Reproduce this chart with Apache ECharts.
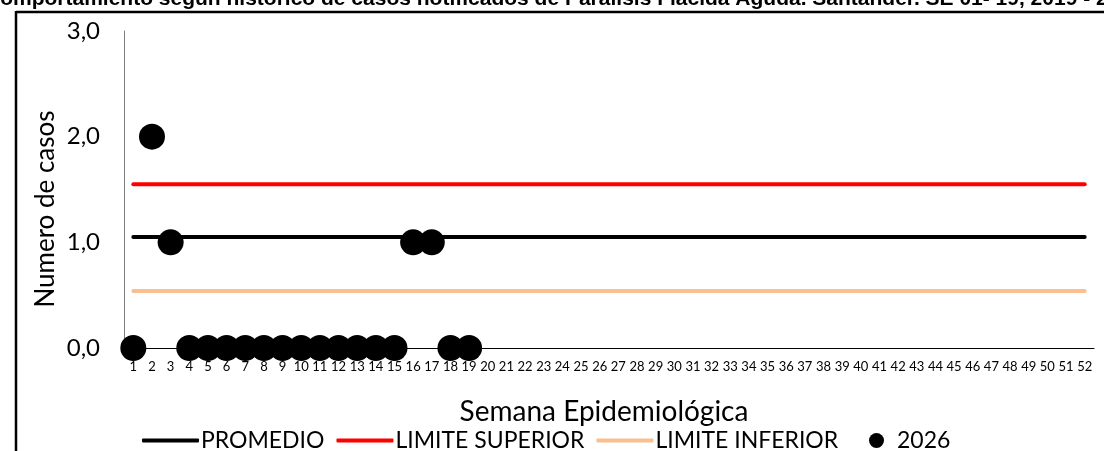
<!DOCTYPE html>
<html>
<head>
<meta charset="utf-8">
<script src="https://cdn.jsdelivr.net/npm/echarts@6/dist/echarts.min.js"></script>
<style>
  html, body { margin: 0; padding: 0; background: #fff; }
  #chart { width: 1104px; height: 451px; }
</style>
</head>
<body>
<div id="chart"></div>
<script>
// Epidemiological weeks 1..52
const weeks = [];
for (let w = 1; w <= 52; w++) weeks.push(String(w));

// Cases reported in 2026, weeks 1-19
const cases2026 = [0, 2, 1, 0, 0, 0, 0, 0, 0, 0, 0, 0, 0, 0, 0, 1, 1, 0, 0];

// Historical reference levels
const promedio = 1.05;
const limiteSuperior = 1.55;
const limiteInferior = 0.54;

const yTicks = [0, 1, 2, 3];

const titleText = 'Comportamiento según histórico de casos notificados de Parálisis Flácida Aguda. Santander. SE 01- 19, 2019 - 2026';
const yAxisTitle = 'Numero de casos';

const font = 'Lato';

function levelSeries(name, value, color) {
  return {
    name: name,
    type: 'line',
    data: [[weeks[0], value], [weeks[weeks.length - 1], value]],
    showSymbol: false,
    symbol: 'none',
    lineStyle: { color: color, width: 4, cap: 'round' },
    itemStyle: { color: color },
    silent: true,
    z: 2
  };
}

const chart = echarts.init(document.getElementById('chart'));
chart.setOption({
  animation: false,
  backgroundColor: '#ffffff',
  graphic: [
    {
      type: 'text', left: -15, top: -11, z: 10,
      style: { text: titleText, font: 'bold 21px "Liberation Sans", Arial', fill: '#000' }
    },
    { type: 'line', shape: { x1: 16, y1: 12, x2: 1104, y2: 12 }, style: { stroke: '#000', lineWidth: 2.5 } },
    { type: 'line', shape: { x1: 16, y1: 11, x2: 16, y2: 451 }, style: { stroke: '#000', lineWidth: 2.5 } },
    {
      type: 'text', x: 46, y: 209, rotation: Math.PI / 2, z: 10,
      style: {
        text: yAxisTitle, fontFamily: font, fontSize: 26, fill: '#000',
        align: 'center', verticalAlign: 'middle'
      }
    }
  ],
  grid: { left: 124, right: 10, top: 31, bottom: 103, containLabel: false },
  xAxis: {
    type: 'category',
    data: weeks,
    boundaryGap: true,
    name: 'Semana Epidemiológica',
    nameLocation: 'middle',
    nameGap: 50,
    nameTextStyle: { fontFamily: font, fontSize: 28, color: '#000', padding: [0, 10, 0, 0] },
    axisLine: { show: true, lineStyle: { color: '#000', width: 1 } },
    axisTick: { show: false },
    axisLabel: { interval: 0, fontFamily: font, fontSize: 13, color: '#000', margin: 12 },
    splitLine: { show: false }
  },
  yAxis: {
    type: 'value',
    min: yTicks[0],
    max: yTicks[yTicks.length - 1],
    interval: 1,
    axisLine: { show: true, lineStyle: { color: '#808080', width: 1 } },
    axisTick: { show: false },
    axisLabel: {
      fontFamily: font, fontSize: 24, color: '#000', margin: 24,
      formatter: v => v.toFixed(1).replace('.', ',')
    },
    splitLine: { show: false }
  },
  legend: [
    {
      data: ['PROMEDIO', 'LIMITE SUPERIOR', 'LIMITE INFERIOR'],
      left: 142, top: 429, padding: 0,
      icon: 'roundRect',
      itemWidth: 57, itemHeight: 4, itemGap: 12,
      textStyle: { fontFamily: font, fontSize: 23, color: '#000', padding: [0, 0, 0, -3] }
    },
    {
      data: ['2026'],
      left: 869, top: 429, padding: 0,
      icon: 'circle',
      itemWidth: 15, itemHeight: 15,
      textStyle: { fontFamily: font, fontSize: 23, color: '#000', padding: [0, 0, 0, 8] }
    }
  ],
  series: [
    levelSeries('PROMEDIO', promedio, '#000000'),
    levelSeries('LIMITE SUPERIOR', limiteSuperior, '#FF0000'),
    levelSeries('LIMITE INFERIOR', limiteInferior, '#F9BF8F'),
    {
      name: '2026',
      type: 'scatter',
      data: cases2026,
      symbol: 'circle',
      symbolSize: 26,
      itemStyle: { color: '#000', opacity: 1 },
      z: 5
    }
  ]
});
</script>
</body>
</html>
